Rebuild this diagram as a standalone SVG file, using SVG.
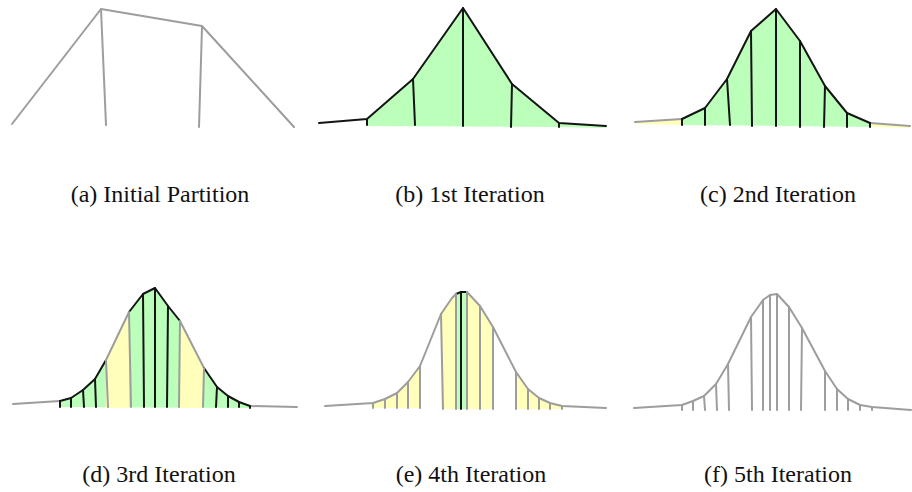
<svg xmlns="http://www.w3.org/2000/svg" width="912" height="492" viewBox="0 0 912 492">
<style>
.g{stroke:#9d9d9d;stroke-width:2;fill:none;stroke-linejoin:round;stroke-linecap:round}
.k{stroke:#141414;stroke-width:2;fill:none;stroke-linejoin:round;stroke-linecap:round}
.fg{fill:#bbffbb;stroke:none}
.fy{fill:#ffffbb;stroke:none}
.lbl{font-family:'Liberation Serif','Times New Roman',serif;font-size:24px;fill:#111;text-anchor:middle}
</style>
<rect width="912" height="492" fill="#fff"/>

<g id="panel-a">
<polyline class="g" points="12,124 101,9 202,26 294,127"/>
<line class="g" x1="101" y1="9" x2="106" y2="125"/>
<line class="g" x1="202" y1="27" x2="199" y2="127"/>
<text class="lbl" x="160" y="202">(a) Initial Partition</text>
</g>

<g id="panel-b">
<polygon class="fg" points="367,119 413,79 463,8 512,84 559,123 606,126 606,128 559,127 367,126"/>
<polyline class="k" points="319,123 367,119 413,79 463,8 512,84 559,123 606,126"/>
<line class="k" x1="367" y1="119" x2="367" y2="125"/>
<line class="k" x1="413" y1="79" x2="415" y2="125"/>
<line class="k" x1="463" y1="8" x2="463" y2="126"/>
<line class="k" x1="512" y1="84" x2="511" y2="127"/>
<line class="k" x1="559" y1="123" x2="559" y2="127"/>
<text class="lbl" x="470" y="202">(b) 1st Iteration</text>
</g>

<g id="panel-c">
<polygon class="fy" points="635,122 682,119 682,125 635,124"/>
<polygon class="fy" points="870,123 910,126 910,128 870,127"/>
<polygon class="fg" points="682,119 705,108 727,79 751,31 776,9 800,41 825,86 847,113 870,123 870,127 682,125"/>
<line class="g" x1="635" y1="122" x2="682" y2="119"/>
<line class="g" x1="870" y1="123" x2="910" y2="126"/>
<polyline class="k" points="682,119 705,108 727,79 751,31 776,9 800,41 825,86 847,113 870,123"/>
<line class="k" x1="682" y1="119" x2="682" y2="125"/>
<line class="k" x1="705" y1="108" x2="705" y2="125"/>
<line class="k" x1="727" y1="79" x2="730" y2="125"/>
<line class="k" x1="751" y1="31" x2="752" y2="126"/>
<line class="k" x1="776" y1="9" x2="776" y2="126"/>
<line class="k" x1="800" y1="41" x2="800" y2="127"/>
<line class="k" x1="825" y1="86" x2="824" y2="127"/>
<line class="k" x1="847" y1="113" x2="847" y2="127"/>
<line class="k" x1="870" y1="123" x2="870" y2="127"/>
<text class="lbl" x="778" y="202">(c) 2nd Iteration</text>
</g>

<g id="panel-d">
<polygon class="fg" points="60,401 71,398 83,390 95,379 106,360 129,312 143,294 155,288 168,306 180,321 204,368 217,387 228,396 239,402 250,406 250,408 60,407"/>
<polygon class="fy" points="106,360 129,312 129,408 106,408"/>
<polygon class="fy" points="180,321 204,368 204,408 180,408"/>
<line class="g" x1="13" y1="404" x2="60" y2="401"/>
<line class="g" x1="250" y1="406" x2="297" y2="407"/>
<polyline class="k" points="60,401 71,398 83,390 95,379 106,360"/>
<polyline class="g" points="106,360 129,312"/>
<polyline class="k" points="129,312 143,294 155,288 168,306 180,321"/>
<polyline class="g" points="180,321 204,368"/>
<polyline class="k" points="204,368 217,387 228,396 239,402 250,406"/>
<line class="k" x1="60" y1="401" x2="60" y2="407"/>
<line class="k" x1="71" y1="398" x2="71" y2="407"/>
<line class="k" x1="83" y1="390" x2="84" y2="407"/>
<line class="k" x1="95" y1="379" x2="96" y2="407"/>
<line class="g" x1="106" y1="360" x2="108" y2="407"/>
<line class="g" x1="129" y1="312" x2="131" y2="407"/>
<line class="k" x1="143" y1="294" x2="144" y2="407"/>
<line class="k" x1="155" y1="288" x2="155" y2="407"/>
<line class="k" x1="168" y1="306" x2="167" y2="407"/>
<line class="g" x1="180" y1="321" x2="179" y2="407"/>
<line class="g" x1="204" y1="368" x2="203" y2="407"/>
<line class="k" x1="217" y1="387" x2="216" y2="407"/>
<line class="k" x1="228" y1="396" x2="228" y2="407"/>
<line class="k" x1="239" y1="402" x2="239" y2="407"/>
<line class="k" x1="250" y1="406" x2="250" y2="408"/>
<text class="lbl" x="159" y="482">(d) 3rd Iteration</text>
</g>

<g id="panel-e">
<polygon class="fy" points="373,403 385,399 397,393 408,382 420,366 420,408 373,408"/>
<polygon class="fy" points="441,314 452,298 456,294 456,409 441,409"/>
<polygon class="fg" points="456,294 461,292 467,292 467,409 456,409"/>
<polygon class="fy" points="467,292 480,306 493,327 493,409 467,409"/>
<polygon class="fy" points="516,372 528,389 539,398 550,403 562,406 562,409 516,409"/>
<polyline class="g" points="325,406 373,403 385,399 397,393 408,382 420,366 441,314 452,298 456,294"/>
<polyline class="k" points="456,294 461,292 467,292"/>
<polyline class="g" points="467,292 480,306 493,327 516,372 528,389 539,398 550,403 562,406 606,408"/>
<line class="g" x1="373" y1="403" x2="373" y2="408"/>
<line class="g" x1="385" y1="399" x2="385" y2="408"/>
<line class="g" x1="397" y1="393" x2="397" y2="408"/>
<line class="g" x1="408" y1="382" x2="408" y2="408"/>
<line class="g" x1="420" y1="366" x2="420" y2="408"/>
<line class="g" x1="441" y1="314" x2="443" y2="409"/>
<line class="g" x1="456" y1="294" x2="456" y2="409"/>
<line class="k" x1="461" y1="292" x2="461" y2="409"/>
<line class="g" x1="467" y1="292" x2="467" y2="409"/>
<line class="g" x1="480" y1="306" x2="480" y2="409"/>
<line class="g" x1="493" y1="327" x2="493" y2="409"/>
<line class="g" x1="516" y1="372" x2="516" y2="409"/>
<line class="g" x1="528" y1="389" x2="528" y2="409"/>
<line class="g" x1="539" y1="398" x2="539" y2="409"/>
<line class="g" x1="550" y1="403" x2="550" y2="409"/>
<line class="g" x1="562" y1="406" x2="562" y2="409"/>
<text class="lbl" x="471" y="482">(e) 4th Iteration</text>
</g>

<g id="panel-f">
<polyline class="g" points="634,408 682,405 693,401 704,396 716,384 728,364 751,317 763,300 770,295 777,294 789,307 802,328 825,371 837,389 848,399 860,405 872,407 911,410"/>
<line class="g" x1="682" y1="405" x2="682" y2="410"/>
<line class="g" x1="693" y1="401" x2="693" y2="410"/>
<line class="g" x1="704" y1="396" x2="705" y2="410"/>
<line class="g" x1="716" y1="384" x2="717" y2="410"/>
<line class="g" x1="728" y1="364" x2="729" y2="410"/>
<line class="g" x1="751" y1="317" x2="752" y2="410"/>
<line class="g" x1="763" y1="300" x2="763" y2="410"/>
<line class="g" x1="770" y1="295" x2="770" y2="410"/>
<line class="g" x1="777" y1="294" x2="777" y2="410"/>
<line class="g" x1="789" y1="307" x2="789" y2="410"/>
<line class="g" x1="802" y1="328" x2="801" y2="410"/>
<line class="g" x1="825" y1="371" x2="825" y2="410"/>
<line class="g" x1="837" y1="389" x2="837" y2="410"/>
<line class="g" x1="848" y1="399" x2="848" y2="410"/>
<line class="g" x1="860" y1="405" x2="860" y2="410"/>
<line class="g" x1="872" y1="407" x2="872" y2="410"/>
<text class="lbl" x="778" y="482">(f) 5th Iteration</text>
</g>
</svg>
